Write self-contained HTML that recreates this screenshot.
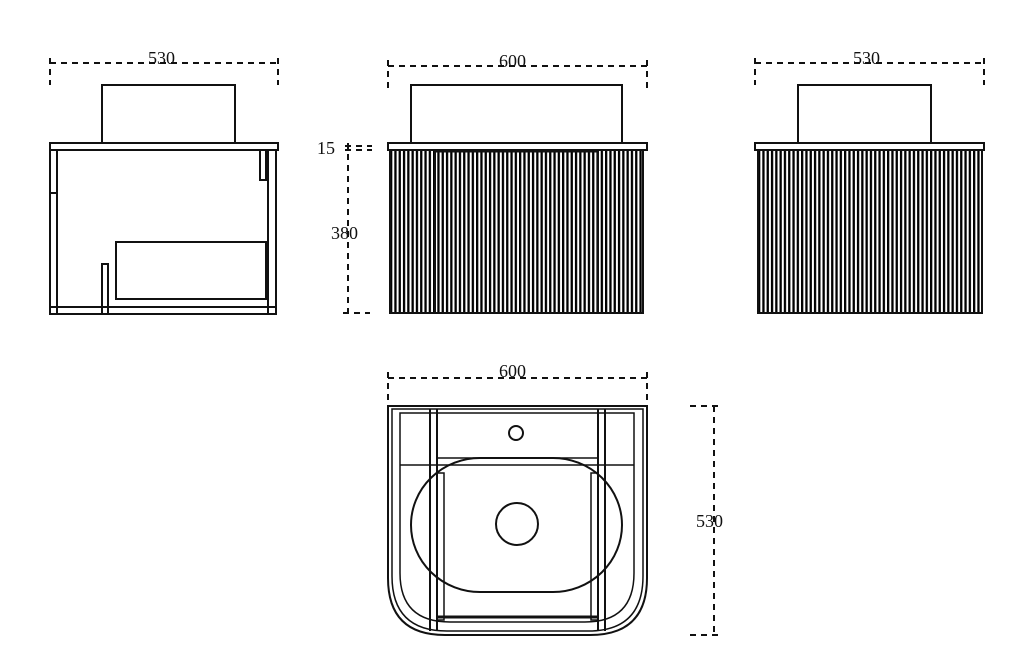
<!DOCTYPE html>
<html><head><style>body{margin:0;background:#fff}svg{display:block}text{font-family:"Liberation Serif",serif;font-size:18px;fill:#111}</style></head><body>
<svg width="1024" height="656" viewBox="0 0 1024 656" xmlns="http://www.w3.org/2000/svg">
<defs>
<pattern id="st" x="390" y="0" width="4.3" height="10" patternUnits="userSpaceOnUse"><rect x="0" y="0" width="2.3" height="10" fill="#000"/></pattern>
<pattern id="st2" x="758" y="0" width="4.3" height="10" patternUnits="userSpaceOnUse"><rect x="0" y="0" width="2.3" height="10" fill="#000"/></pattern>
</defs>
<g fill="none" stroke="#111" stroke-width="2">
<g stroke-dasharray="6,5">
<line x1="50" y1="63" x2="278" y2="63"/><line x1="50" y1="58" x2="50" y2="85"/><line x1="278" y1="58" x2="278" y2="85"/>
<line x1="388" y1="66" x2="647" y2="66"/><line x1="388" y1="60" x2="388" y2="88"/><line x1="647" y1="60" x2="647" y2="88"/>
<line x1="755" y1="63" x2="984" y2="63"/><line x1="755" y1="58" x2="755" y2="85"/><line x1="984" y1="58" x2="984" y2="85"/>
<line x1="348" y1="143" x2="348" y2="313"/><line x1="345" y1="146" x2="372" y2="146"/><line x1="345" y1="150" x2="372" y2="150"/><line x1="343" y1="313" x2="370" y2="313"/>
<line x1="388" y1="378" x2="647" y2="378"/><line x1="388" y1="372" x2="388" y2="400"/><line x1="647" y1="372" x2="647" y2="400"/>
<line x1="714" y1="406" x2="714" y2="635"/><line x1="690" y1="406" x2="718" y2="406"/><line x1="690" y1="635" x2="718" y2="635"/>
</g>
<rect x="102" y="85" width="133" height="58"/>
<rect x="50" y="143" width="228" height="7"/>
<rect x="50" y="150" width="7" height="164"/>
<line x1="50" y1="193" x2="57" y2="193"/>
<rect x="268" y="150" width="8" height="164"/>
<rect x="260" y="150" width="6" height="30"/>
<rect x="116" y="242" width="150" height="57"/>
<rect x="102" y="264" width="6" height="50"/>
<rect x="50" y="307" width="226" height="7"/>
<rect x="411" y="85" width="211" height="58"/>
<rect x="388" y="143" width="259" height="7"/>
<rect x="390" y="150" width="253" height="163" fill="url(#st)" stroke="none"/>
<rect x="390" y="150" width="253" height="163"/>
<line x1="435" y1="151" x2="598" y2="151" stroke-width="3"/>
<line x1="435" y1="151" x2="435" y2="313"/><line x1="598" y1="151" x2="598" y2="313"/>
<rect x="798" y="85" width="133" height="58"/>
<rect x="755" y="143" width="229" height="7"/>
<rect x="758" y="150" width="224" height="163" fill="url(#st2)" stroke="none"/>
<rect x="758" y="150" width="224" height="163"/>
<path d="M388 406 H647 V578 Q647 635 590 635 H445 Q388 635 388 578 Z"/>
<path d="M392 409 H643 V576 Q643 631 588 631 H447 Q392 631 392 576 Z" stroke-width="1.5"/>
<path d="M400 413 H634 V573 Q634 622 585 622 H450 Q400 622 400 573 Z" stroke-width="1.5"/>
<line x1="430" y1="409" x2="430" y2="631"/><line x1="437" y1="409" x2="437" y2="631"/>
<line x1="598" y1="409" x2="598" y2="631"/><line x1="605" y1="409" x2="605" y2="631"/>
<line x1="400" y1="465" x2="634" y2="465" stroke-width="1.5"/>
<line x1="437" y1="458" x2="598" y2="458" stroke-width="1.5"/>
<rect x="437" y="473" width="7" height="147" stroke-width="1.5"/>
<rect x="591" y="473" width="7" height="147" stroke-width="1.5"/>
<line x1="437" y1="617" x2="598" y2="617" stroke-width="3"/>
<path d="M480 458 H553 A69 67 0 0 1 553 592 H480 A69 67 0 0 1 480 458 Z"/>
<circle cx="517" cy="524" r="21"/>
<circle cx="516" cy="433" r="7"/>
</g>
<text x="148" y="64">530</text>
<text x="499" y="67">600</text>
<text x="853" y="64">530</text>
<text x="317" y="154">15</text>
<text x="331" y="239">380</text>
<text x="499" y="377">600</text>
<text x="696" y="527">530</text>
</svg>
</body></html>
